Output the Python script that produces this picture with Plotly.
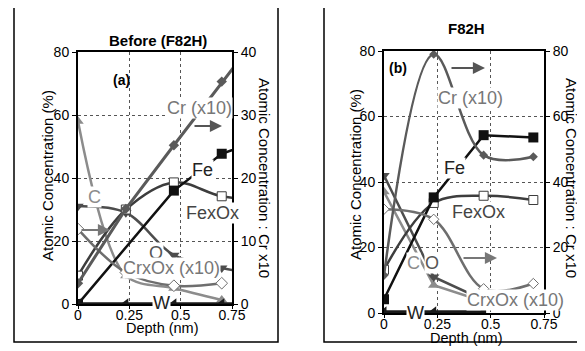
import plotly.graph_objects as go

# page is shown with an 8px body margin, so the figure is sized/offset to fit the 585x351 window
OFF = 8
W_FIG, H_FIG = 585 - OFF, 351 - OFF
FONT = "Liberation Sans, Arial, sans-serif"

# ---------------- data ----------------
depth_a = [0, 0.233, 0.467, 0.7, 0.933]
cr_a = [3.3, 15.1, 25.2, 35.3, 45.0]          # right axis (Cr x10)
fe_depth_a = [0, 0.467, 0.7, 0.933]
fe_a = [0, 36, 47.7, 53]
fexox_a = [9, 30, 38.6, 34.2, 33]
c_depth_a = [0, 0.233, 0.467, 0.7]
c_a = [58, 9, 5, 1.3]
o_a = [31, 29, 15.5, 11.4, 9]
crxox_depth_a = [0, 0.233, 0.467, 0.7]
crxox_a = [11.9, 5.0, 2.9, 3.3]               # right axis (x10)
w_a = [0, 0, 0, 0, 0]

depth_b = [0, 0.233, 0.467, 0.7]
cr_b = [11.5, 79, 48.2, 47.7]                 # right axis (Cr x10)
fe_b = [4.2, 35.3, 54.3, 53.6]
fexox_b = [13.2, 33.6, 35.8, 34.5]
c_b = [37, 8.5, 3.5, 2.5]
o_b = [42, 11, 4, 3]
crxox_b = [31.7, 28.6, 7.4, 9.0]              # right axis (x10)
w_depth_b = [0, 0.233, 0.467]
w_b = [0.3, 0.3, 0.3]

x_ticks = [0, 0.25, 0.5, 0.75]
x_tick_text = ["0", "0.25", "0.5", "0.75"]
left_ticks = [0, 20, 40, 60, 80]
right_ticks_a = [0, 10, 20, 30, 40]
right_ticks_b = [0, 20, 40, 60, 80]

# ---------------- colours ----------------
COL_CR = "#5a5a5a"
COL_FE = "#111111"
COL_FEXOX = "#3d3d3d"
COL_C = "#8c8c8c"
COL_O = "#4d4d4d"
COL_CRXOX = "#6e6e6e"
COL_W = "#1a1a1a"


def px(x, y):
    """window pixel -> paper fraction"""
    return (x - OFF) / W_FIG, 1 - (y - OFF) / H_FIG


fig = go.Figure()


def add_panel(xa, d):
    for tr in d:
        fig.add_trace(go.Scatter(xaxis=xa, yaxis=tr.pop("axis"), mode="lines+markers",
                                 showlegend=False, hoverinfo="skip", **tr))


panel_a = [
    dict(x=c_depth_a, y=c_a, axis="y", line=dict(color=COL_C, width=2.5, shape="spline", smoothing=0.9),
         marker=dict(symbol="triangle-up", size=10, color=COL_C)),
    dict(x=crxox_depth_a, y=crxox_a, axis="y2", line=dict(color=COL_CRXOX, width=2.5, shape="spline", smoothing=1),
         marker=dict(symbol="diamond", size=9, color="white", line=dict(color=COL_CRXOX, width=1))),
    dict(x=depth_a, y=o_a, axis="y", line=dict(color=COL_O, width=2.5, shape="spline", smoothing=1),
         marker=dict(symbol="triangle-down", size=10, color=COL_O)),
    dict(x=depth_a, y=fexox_a, axis="y", line=dict(color=COL_FEXOX, width=2.5, shape="spline", smoothing=1),
         marker=dict(symbol="square", size=9, color="white", line=dict(color=COL_FEXOX, width=1))),
    dict(x=depth_a, y=cr_a, axis="y2", line=dict(color=COL_CR, width=3),
         marker=dict(symbol="diamond", size=8, color=COL_CR)),
    dict(x=fe_depth_a, y=fe_a, axis="y", line=dict(color=COL_FE, width=2.5),
         marker=dict(symbol="square", size=10, color=COL_FE)),
    dict(x=depth_a, y=w_a, axis="y", line=dict(color=COL_W, width=3.5),
         marker=dict(symbol="triangle-left", size=10, color=COL_W)),
]
add_panel("x", panel_a)

panel_b = [
    dict(x=depth_b, y=c_b, axis="y3", line=dict(color=COL_C, width=2.5),
         marker=dict(symbol="triangle-up", size=10, color=COL_C)),
    dict(x=depth_b, y=o_b, axis="y3", line=dict(color=COL_O, width=2.5),
         marker=dict(symbol="triangle-down", size=10, color=COL_O)),
    dict(x=depth_b, y=crxox_b, axis="y4", line=dict(color=COL_CRXOX, width=2.5, shape="spline", smoothing=1),
         marker=dict(symbol="diamond", size=8, color="white", line=dict(color=COL_CRXOX, width=1))),
    dict(x=depth_b, y=fexox_b, axis="y3", line=dict(color=COL_FEXOX, width=2.5, shape="spline", smoothing=1),
         marker=dict(symbol="square", size=9, color="white", line=dict(color=COL_FEXOX, width=1))),
    dict(x=depth_b, y=cr_b, axis="y4", line=dict(color=COL_CR, width=2.5, shape="spline", smoothing=1),
         marker=dict(symbol="diamond", size=7, color=COL_CR)),
    dict(x=depth_b, y=fe_b, axis="y3", line=dict(color=COL_FE, width=2.5),
         marker=dict(symbol="square", size=10, color=COL_FE)),
    dict(x=w_depth_b, y=w_b, axis="y3", line=dict(color=COL_W, width=3.5),
         marker=dict(symbol="triangle-left", size=10, color=COL_W)),
]
add_panel("x2", panel_b)

# ---------------- axes ----------------
tickfont = dict(family=FONT, size=14, color="black")
xcommon = dict(range=[0, 0.75], tickvals=x_ticks, ticktext=x_tick_text, showline=True, mirror=True,
               linecolor="black", linewidth=2, ticks="outside", ticklen=3, tickcolor="black",
               showgrid=True, gridcolor="#555555", griddash="dot", gridwidth=1, zeroline=False,
               tickfont=tickfont, fixedrange=True, automargin=False, ticklabelstandoff=-6)
ycommon = dict(showline=True, linecolor="black", linewidth=2, ticks="outside", ticklen=4,
               tickcolor="black", zeroline=False, tickfont=tickfont, fixedrange=True, automargin=False)

# plot areas in window pixels
ax_a = [78, 232]
ay_a = [52, 304]
ax_b = [384, 544]
ay_b = [51, 313]


def xdom(a):
    return [px(a[0], 0)[0], px(a[1], 0)[0]]


def ydom(a):
    return [px(0, a[1])[1], px(0, a[0])[1]]


fig.update_layout(
    xaxis=dict(domain=xdom(ax_a), anchor="y", **xcommon),
    yaxis=dict(domain=ydom(ay_a), anchor="x", range=[0, 80],
               tickvals=left_ticks, showgrid=True, gridcolor="#555555", griddash="dot", gridwidth=1,
               **ycommon),
    yaxis2=dict(overlaying="y", side="right", anchor="x", range=[0, 40], tickvals=right_ticks_a,
                showgrid=False, **ycommon),
    xaxis2=dict(domain=xdom(ax_b), anchor="y3", **xcommon),
    yaxis3=dict(domain=ydom(ay_b), anchor="x2", range=[0, 80],
                tickvals=left_ticks, showgrid=True, gridcolor="#555555", griddash="dot", gridwidth=1,
                **ycommon),
    yaxis4=dict(overlaying="y3", side="right", anchor="x2", range=[0, 80], tickvals=right_ticks_b,
                showgrid=False, **ycommon),
    width=W_FIG, height=H_FIG,
    margin=dict(l=0, r=0, t=0, b=0, autoexpand=False),
    paper_bgcolor="white", plot_bgcolor="white",
    font=dict(family=FONT, color="black"),
)

# ---------------- outer boxes ----------------
for (x0, y0, x1, y1) in [(14, 6, 278, 342), (324, 7, 583, 342)]:
    a0 = px(x0, y0)
    a1 = px(x1, y1)
    fig.add_shape(type="rect", xref="paper", yref="paper", x0=a0[0], y0=a1[1], x1=a1[0], y1=a0[1],
                  line=dict(color="black", width=1.5), layer="above")

# ---------------- labels ----------------
annots = []


def label(text, x, y, color, size=18, bold=False, bg=True, angle=0):
    px_, py_ = px(x, y)
    annots.append(dict(text=f"<b>{text}</b>" if bold else text, x=px_, y=py_, xref="paper", yref="paper",
                       showarrow=False, font=dict(family=FONT, size=size, color=color),
                       bgcolor="white" if bg else None, borderpad=0, textangle=angle,
                       xanchor="center", yanchor="middle"))


def arrow(x0, y0, x1, y1, color):
    hx, hy = px(x1, y1)
    annots.append(dict(text="", x=hx, y=hy, xref="paper", yref="paper", showarrow=True,
                       ax=x0 - x1, ay=y0 - y1, arrowhead=2, arrowsize=1.1, arrowwidth=2.2,
                       arrowcolor=color))


# titles and axis titles
label("Before (F82H)", 158, 40, "black", 15, bold=True, bg=False)
label("F82H", 466, 29, "black", 15, bold=True, bg=False)
label("Atomic Concentration (%)", 47, 176, "black", 15, bg=False, angle=-90)
label("Atomic Concentration : Cr x10", 265, 178, "black", 15, bg=False, angle=90)
label("Atomic Concentration (%)", 355, 175, "black", 15, bg=False, angle=-90)
label("Atomic Concentration : Cr x10", 572, 178, "black", 15, bg=False, angle=90)
label("Depth (nm)", 162, 328, "black", 14.5, bg=False)
label("Depth (nm)", 467, 338, "black", 14.5, bg=False)

# panel (a)
label("(a)", 121, 80, "black", 14, bold=True, bg=False)
label("Cr (x10)", 199, 108, "#777777")
arrow(193, 126, 222, 126, "#555555")
label("Fe", 202, 170, "#222222")
label("FexOx", 212, 213, "#444444")
label("C", 94, 197, "#8c8c8c")
label("O", 156, 253, "#555555")
label("CrxOx (x10)", 171, 268, "#777777")
arrow(80, 230, 110, 230, "#777777")
label("W", 161, 303, "#222222")

# panel (b)
label("(b)", 398, 68, "black", 14, bold=True, bg=False)
label("Cr (x10)", 470, 98, "#777777")
arrow(450, 68, 485, 68, "#555555")
label("Fe", 454, 168, "#222222")
label("FexOx", 478, 212, "#444444")
label("C", 413, 263, "#8c8c8c")
label("O", 432, 263, "#555555")
label("CrxOx (x10)", 515, 300, "#777777")
arrow(462, 258, 497, 258, "#777777")
label("W", 415, 313, "#222222")

fig.update_layout(annotations=annots)

fig.write_html("out.html")
